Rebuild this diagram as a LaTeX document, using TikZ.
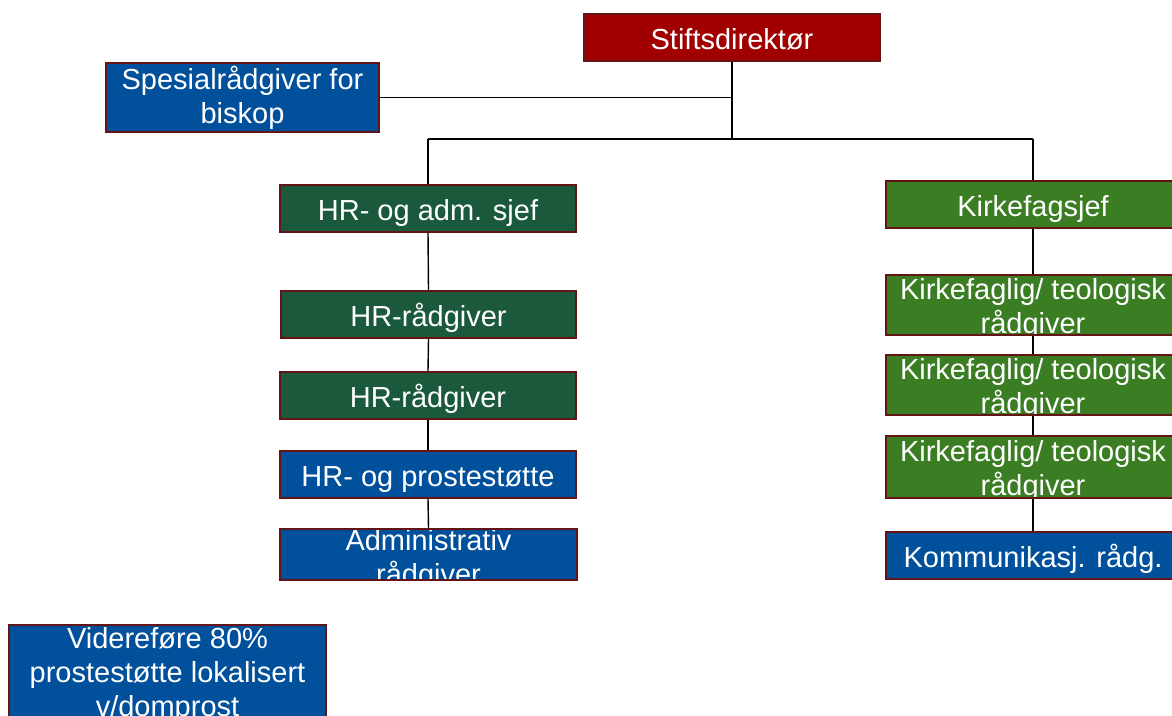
\documentclass[tikz,border=0pt]{standalone}
\usepackage{fontspec}
\setmainfont{Liberation Sans}
\definecolor{redfill}{RGB}{160,0,0}
\definecolor{bluefill}{RGB}{0,80,155}
\definecolor{dgreen}{RGB}{26,89,60}
\definecolor{lgreen}{RGB}{58,125,34}
\definecolor{edgecol}{RGB}{100,20,20}
\begin{document}
\begin{tikzpicture}[x=1pt,y=-1pt,
  box/.style={draw=edgecol, line width=1.2pt, inner sep=0pt, text=white,
    font=\fontsize{29}{34}\selectfont, align=center, minimum height=47pt, minimum width=296pt},
  one/.style={text height=25pt, text depth=2pt},
  txt/.style={inner sep=0pt, text=white, font=\fontsize{29}{34}\selectfont, align=center},
  conn/.style={draw=black, line width=1.4pt}]
\useasboundingbox (0,0) rectangle (1172,715);
% top
\node[box, one, fill=redfill] (stift) at (732,37.5) {Stiftsdirektør};
\node[box, fill=bluefill, minimum width=273pt, minimum height=69pt] (spes) at (242.5,97.5) {Spesialrådgiver for\\biskop};
% left column
\node[box, one, fill=dgreen] (hrsjef) at (428,208.5) {HR- og adm. sjef};
\node[box, one, fill=dgreen, minimum width=295pt] (hr1) at (428.5,314.5) {HR-rådgiver};
\node[box, one, fill=dgreen] (hr2) at (428,395.5) {HR-rådgiver};
\node[box, one, fill=bluefill] (prost) at (428,474.5) {HR- og prostestøtte};
\node[box, fill=bluefill, minimum width=297pt, minimum height=51pt,
  path picture={\node[txt, yshift=-5.5pt] at (path picture bounding box.center) {Administrativ\\rådgiver};}] (adm) at (428.5,554.5) {};
% right column
\node[box, one, fill=lgreen, minimum width=294pt] (kirke) at (1033,204.5) {Kirkefagsjef};
\node[box, fill=lgreen, minimum width=294pt, minimum height=60pt,
  path picture={\node[txt, yshift=-4pt] at (path picture bounding box.center) {Kirkefaglig/ teologisk\\rådgiver};}] (kf1) at (1033,305) {};
\node[box, fill=lgreen, minimum width=294pt, minimum height=60pt,
  path picture={\node[txt, yshift=-4pt] at (path picture bounding box.center) {Kirkefaglig/ teologisk\\rådgiver};}] (kf2) at (1033,385) {};
\node[box, fill=lgreen, minimum width=294pt, minimum height=62pt,
  path picture={\node[txt, yshift=-4pt] at (path picture bounding box.center) {Kirkefaglig/ teologisk\\rådgiver};}] (kf3) at (1033,467) {};
\node[box, one, fill=bluefill, minimum width=294pt] (komm) at (1033,555.5) {Kommunikasj. rådg.};
% bottom left
\node[box, fill=bluefill, minimum width=317pt, minimum height=94pt,
  path picture={\node[txt, yshift=-3pt] at (path picture bounding box.center) {Videreføre 80\%\\prostestøtte lokalisert\\v/domprost};}] (vid) at (167.5,672) {};
% connectors
\coordinate (junc) at (732,139);
\coordinate (lj) at (428,139);
\coordinate (rj) at (1033,139);
\draw[conn] (stift.south) -- (junc);
\draw[conn] (spes.east) -- (spes.east -| junc);
\draw[conn] (lj) -- (rj);
\draw[conn] (lj) -- (hrsjef.north);
\draw[conn] (rj) -- (kirke.north);
\draw[conn] (hrsjef.south) -- (hr1.north);
\draw[conn] (hr1.south) -- (hr2.north);
\draw[conn] (hr2.south) -- (prost.north);
\draw[conn] (prost.south) -- (adm.north);
\draw[conn] (kirke.south) -- (kf1.north);
\draw[conn] (kf1.south) -- (kf2.north);
\draw[conn] (kf2.south) -- (kf3.north);
\draw[conn] (kf3.south) -- (komm.north);
\end{tikzpicture}
\end{document}
